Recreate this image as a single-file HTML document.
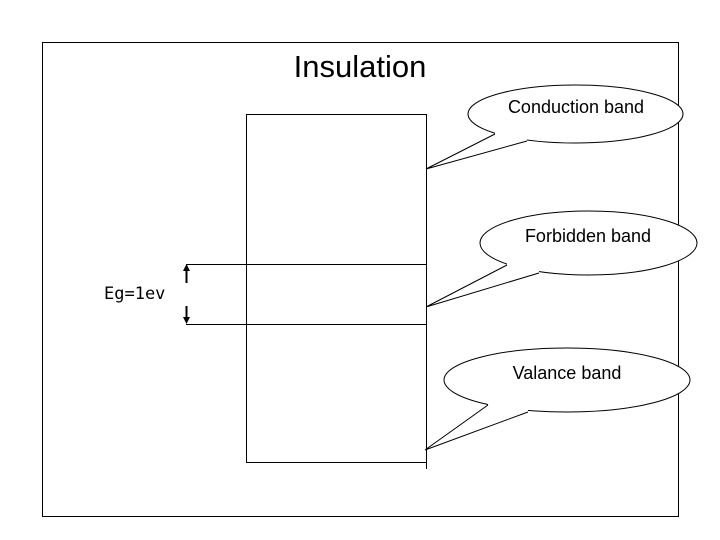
<!DOCTYPE html>
<html><head><style>body{margin:0;background:#fff}svg{display:block}</style></head><body>
<svg width="720" height="540" xmlns="http://www.w3.org/2000/svg" font-family="'Liberation Sans', sans-serif">
<rect x="42.5" y="42.5" width="636" height="474" fill="none" stroke="#000"/>
<text x="360" y="77" font-size="31" text-anchor="middle">Insulation</text>
<rect x="246.5" y="114.5" width="180" height="348" fill="none" stroke="#000"/>
<line x1="426.5" y1="462" x2="426.5" y2="469" stroke="#000"/>
<line x1="186" y1="264.5" x2="426" y2="264.5" stroke="#000"/>
<line x1="186" y1="324.5" x2="426" y2="324.5" stroke="#000"/>
<line x1="186.5" y1="266" x2="186.5" y2="283" stroke="#000" stroke-width="2"/>
<polygon points="183,271 190,271 186.5,264" fill="#000"/>
<line x1="186.5" y1="306" x2="186.5" y2="322" stroke="#000" stroke-width="2"/>
<polygon points="183,317 190,317 186.5,324" fill="#000"/>
<text x="104" y="299" font-size="17" font-family="'DejaVu Sans Mono','Liberation Mono',monospace">Eg=1ev</text>
<g stroke="#000" fill="#fff">
<ellipse cx="575.5" cy="114" rx="107.5" ry="29"/>
<polygon points="495,126 495,134 426,169 527,141 527,133" stroke="none"/>
<polyline points="495,134 426,169 527,141" fill="none"/>
<ellipse cx="588.5" cy="243" rx="108.5" ry="32"/>
<polygon points="507,257 507,265 426,307 539,273 539,265" stroke="none"/>
<polyline points="507,265 426,307 539,273" fill="none"/>
<ellipse cx="567" cy="380" rx="123" ry="32"/>
<polygon points="488,397 488,405 425,450 528,412 528,404" stroke="none"/>
<polyline points="488,405 425,450 528,412" fill="none"/>
</g>
<g font-size="18" text-anchor="middle">
<text x="576" y="113">Conduction band</text>
<text x="588" y="242">Forbidden band</text>
<text x="567" y="379">Valance band</text>
</g>
</svg>
</body></html>
